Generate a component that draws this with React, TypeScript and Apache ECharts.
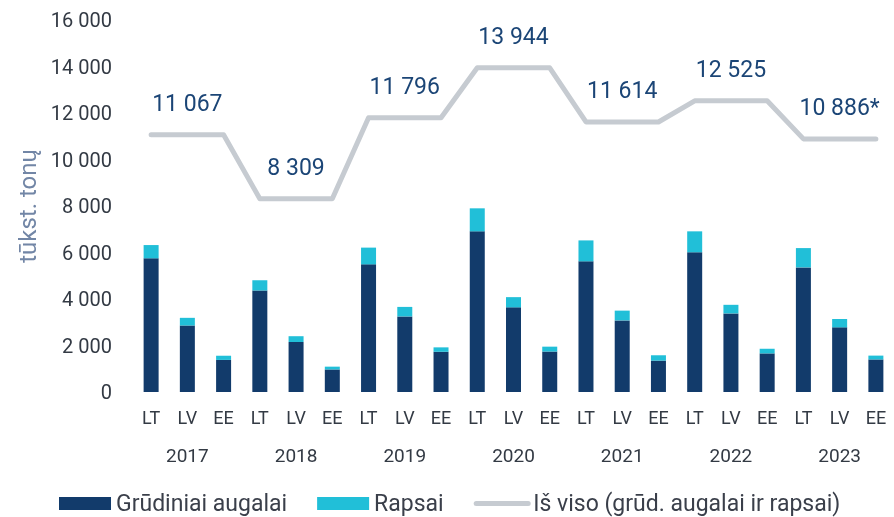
import React, { useEffect, useRef } from "react";
import * as echarts from "echarts";

const countries = ["LT", "LV", "EE"];
const years = ["2017", "2018", "2019", "2020", "2021", "2022", "2023"];
const grain = [5750, 2860, 1380, 4370, 2150, 970, 5490, 3250, 1730, 6910, 3640, 1740, 5620, 3080, 1350, 6010, 3380, 1660, 5360, 2780, 1400];
const rapeseed = [570, 330, 180, 440, 250, 120, 720, 410, 190, 990, 440, 210, 900, 420, 230, 900, 370, 200, 830, 360, 165];
const totals = [11067, 8309, 11796, 13944, 11614, 12525, 10886];
const totalNotes = ["", "", "", "", "", "", "*"];
const yTicks = [0, 2000, 4000, 6000, 8000, 10000, 12000, 14000, 16000];

const FONT = "Roboto";
const fmt = (v: number) => String(v).replace(/\B(?=(\d{3})+(?!\d))/g, " ");

export default function App() {
  const ref = useRef<HTMLDivElement>(null);
  useEffect(() => {
    if (!ref.current) return;
    const chart = echarts.init(ref.current, undefined, { renderer: "svg" });
    const categories: string[] = [];
    years.forEach(() => countries.forEach((c) => categories.push(c)));
    const lineData: any[] = [];
    totals.forEach((t, i) => {
      countries.forEach((_, j) => {
        if (j === 1) {
          lineData.push({
            value: t,
            label: { show: true, formatter: fmt(t) + totalNotes[i] },
          });
        } else {
          lineData.push({ value: t, label: { show: false } });
        }
      });
    });
    chart.setOption({
      animation: false,
      textStyle: { fontFamily: FONT },
      grid: { left: 133, width: 765, top: 20, height: 372 },
      legend: {
        left: 54,
        top: 487,
        itemWidth: 52,
        itemHeight: 13,
        itemGap: 30,
        textStyle: { fontSize: 23, color: "#3a3f4a", fontFamily: FONT },
        data: [
          { name: "Grūdiniai augalai", icon: "rect" },
          { name: "Rapsai", icon: "rect" },
          {
            name: "Iš viso (grūd. augalai ir rapsai)",
            itemStyle: { opacity: 0 },
            lineStyle: { width: 5, color: "#c6cbd1", cap: "round" },
          },
        ],
      },
      xAxis: [
        {
          type: "category",
          data: categories,
          axisLine: { show: false },
          axisTick: { show: false },
          axisLabel: { margin: 16, fontSize: 18, color: "#333a44", fontFamily: FONT, interval: 0 },
        },
        {
          type: "category",
          data: years,
          position: "bottom",
          axisLine: { show: false },
          axisTick: { show: false },
          axisLabel: { margin: 54, fontSize: 19, color: "#333a44", fontFamily: FONT, interval: 0 },
        },
      ],
      yAxis: {
        type: "value",
        min: yTicks[0],
        max: yTicks[yTicks.length - 1],
        interval: 2000,
        splitLine: { show: false },
        axisLine: { show: false },
        axisTick: { show: false },
        axisLabel: { margin: 21, fontSize: 20, color: "#333a44", fontFamily: FONT, formatter: (v: number) => fmt(v) },
        name: "tūkst. tonų",
        nameLocation: "middle",
        nameRotate: 90,
        nameGap: 93,
        nameTextStyle: { fontSize: 24, color: "#7286a6", fontFamily: FONT },
      },
      series: [
        {
          name: "Grūdiniai augalai",
          type: "bar",
          stack: "total",
          barWidth: 15,
          itemStyle: { color: "#123b6b" },
          data: grain,
        },
        {
          name: "Rapsai",
          type: "bar",
          stack: "total",
          barWidth: 15,
          itemStyle: { color: "#21bfd8" },
          data: rapeseed,
        },
        {
          name: "Iš viso (grūd. augalai ir rapsai)",
          type: "line",
          symbol: "circle",
          symbolSize: 0,
          showSymbol: true,
          lineStyle: { color: "#c6cbd1", width: 5, cap: "round", join: "round" },
          itemStyle: { color: "#c6cbd1" },
          label: { position: "top", distance: 20, fontSize: 23, color: "#1b4576", fontFamily: FONT },
          data: lineData,
          z: 3,
        },
      ],
    });
    return () => chart.dispose();
  }, []);
  return <div ref={ref} style={{ position: "fixed", left: 0, top: 0, width: 894, height: 517 }} />;
}
